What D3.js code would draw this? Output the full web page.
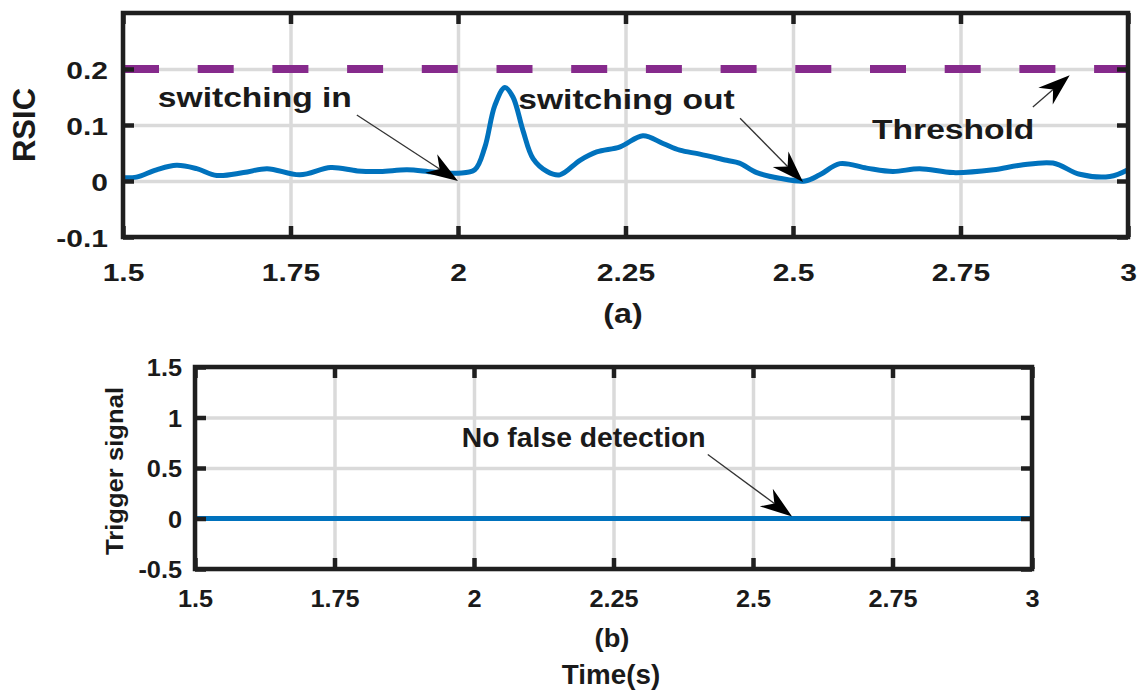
<!DOCTYPE html>
<html>
<head>
<meta charset="utf-8">
<script src="https://cdn.jsdelivr.net/npm/d3@7/dist/d3.min.js"></script>
<style>
  body { margin: 0; background: #fff; }
  svg { display: block; font-family: "Liberation Sans", Arial, sans-serif; }
</style>
</head>
<body>
<script>
// RSIC (a) and trigger signal (b) versus time

var width = 1140,
    height = 691;

// data
var timeTicks = [1.5, 1.75, 2, 2.25, 2.5, 2.75, 3];
var rsicTicks = [-0.1, 0, 0.1, 0.2];
var trigTicks = [-0.5, 0, 0.5, 1, 1.5];

var rsicTime = [1.5, 1.52, 1.55, 1.58, 1.61, 1.64, 1.68, 1.715, 1.764, 1.81, 1.85, 1.884,
                1.924, 1.963, 2.0, 2.025, 2.04, 2.055, 2.07, 2.082, 2.097, 2.112, 2.133,
                2.152, 2.182, 2.207, 2.242, 2.276, 2.306, 2.331, 2.361, 2.401, 2.42, 2.446,
                2.48, 2.518, 2.54, 2.57, 2.61, 2.649, 2.689, 2.739, 2.799, 2.839, 2.888,
                2.928, 2.973, 3.0];
var rsicValue = [0.006, 0.007, 0.02, 0.028, 0.022, 0.01, 0.015, 0.022, 0.011, 0.024, 0.018, 0.017,
                 0.02, 0.016, 0.014, 0.02, 0.06, 0.135, 0.167, 0.15, 0.09, 0.04, 0.017,
                 0.011, 0.037, 0.052, 0.061, 0.081, 0.067, 0.055, 0.048, 0.037, 0.032, 0.015,
                 0.005, 0.0, 0.011, 0.031, 0.023, 0.017, 0.022, 0.015, 0.02, 0.028, 0.032,
                 0.012, 0.008, 0.02];

var threshold = 0.2;

var trigTime = [1.5, 3];
var trigValue = [0, 0];

// annotations: label position + arrow tail / tip, in data units
var topNotes = [
  { text: "switching in",  tx: 1.552, ty: 0.133, x1: 1.849, y1: 0.118, x2: 2.0,   y2: 0.0 },
  { text: "switching out", tx: 2.09,  ty: 0.128, x1: 2.421, y1: 0.112, x2: 2.515, y2: -0.002 },
  { text: "Threshold",     tx: 2.618, ty: 0.0745, x1: 2.858, y1: 0.132, x2: 2.913, y2: 0.189 }
];
var bottomNotes = [
  { text: "No false detection", tx: 1.978, ty: 0.703, x1: 2.419, y1: 0.634, x2: 2.57, y2: 0.02 }
];

var svg = d3.select("body")
            .append("svg")
            .attr("width", width)
            .attr("height", height);

svg.append("rect")
   .attr("width", width)
   .attr("height", height)
   .attr("fill", "white");

var gridColor = "#dadada",
    boxColor = "#1f1f1f",
    textColor = "#1a1a1a",
    blue = "#0072BD",
    purple = "#862a8c";

// arrow with a filled, notched head
function arrow(g, x1, y1, x2, y2) {
  var dx = x2 - x1, dy = y2 - y1, len = Math.sqrt(dx * dx + dy * dy);
  var ux = dx / len, uy = dy / len, nx = -uy, ny = ux;
  var L = 32, w = 11, notch = 10;
  g.append("line")
   .attr("x1", x1).attr("y1", y1)
   .attr("x2", x2 - ux * (L - notch)).attr("y2", y2 - uy * (L - notch))
   .attr("stroke", "#333").attr("stroke-width", 1.3);
  var pts = [
    [x2, y2],
    [x2 - ux * L + nx * w, y2 - uy * L + ny * w],
    [x2 - ux * (L - notch), y2 - uy * (L - notch)],
    [x2 - ux * L - nx * w, y2 - uy * L - ny * w]
  ];
  g.append("path")
   .attr("d", "M" + pts.join("L") + "Z")
   .attr("fill", "#000");
}

// one MATLAB style panel: grid, box, inward ticks on all sides
function panel(x, y, xt, yt, o) {
  var g = svg.append("g");
  var x0 = x.range()[0], x1 = x.range()[1],
      y0 = y.range()[0], y1 = y.range()[1];

  // grid
  g.append("g")
   .attr("transform", "translate(0," + y0 + ")")
   .call(d3.axisBottom(x).tickValues(xt).tickSize(-(y0 - y1)).tickFormat(""))
   .call(function(a) { a.select(".domain").remove(); })
   .selectAll("line").attr("stroke", gridColor).attr("stroke-width", 3.5);
  g.append("g")
   .attr("transform", "translate(" + x0 + ",0)")
   .call(d3.axisLeft(y).tickValues(yt).tickSize(-(x1 - x0)).tickFormat(""))
   .call(function(a) { a.select(".domain").remove(); })
   .selectAll("line").attr("stroke", gridColor).attr("stroke-width", 3.5);

  var plot = g.append("g");

  // inward ticks
  var tl = 11;
  var axes = [
    [d3.axisBottom(x).tickValues(xt), "translate(0," + y0 + ")"],
    [d3.axisTop(x).tickValues(xt), "translate(0," + y1 + ")"],
    [d3.axisLeft(y).tickValues(yt), "translate(" + x0 + ",0)"],
    [d3.axisRight(y).tickValues(yt), "translate(" + x1 + ",0)"]
  ];
  axes.forEach(function(a) {
    g.append("g")
     .attr("transform", a[1])
     .call(a[0].tickSize(-tl).tickFormat(""))
     .call(function(s) { s.select(".domain").remove(); })
     .selectAll("line").attr("stroke", boxColor).attr("stroke-width", 4.5);
  });

  g.append("rect")
   .attr("x", x0).attr("y", y1)
   .attr("width", x1 - x0).attr("height", y0 - y1)
   .attr("fill", "none")
   .attr("stroke", boxColor)
   .attr("stroke-width", 4.5);

  // tick labels
  var bx = g.append("g")
   .attr("transform", "translate(0," + y0 + ")")
   .call(d3.axisBottom(x).tickValues(xt).tickSize(0).tickPadding(o.xPad).tickFormat(String));
  bx.select(".domain").remove();
  bx.selectAll("text")
    .attr("font-size", o.tickFont).attr("font-weight", "bold")
    .attr("font-family", "Liberation Sans, Arial, sans-serif")
    .attr("fill", textColor)
    .attr("transform", "scale(" + o.sx + ",1)");

  var ly = g.append("g")
   .attr("transform", "translate(" + x0 + ",0)")
   .call(d3.axisLeft(y).tickValues(yt).tickSize(0).tickPadding(o.yPad).tickFormat(String));
  ly.select(".domain").remove();
  ly.selectAll("text")
    .attr("font-size", o.tickFont).attr("font-weight", "bold")
    .attr("font-family", "Liberation Sans, Arial, sans-serif")
    .attr("fill", textColor)
    .attr("x", -o.yPad / o.sx)
    .attr("dy", "0.38em")
    .attr("transform", "scale(" + o.sx + ",1)");

  return plot;
}

function label(g, txt, px, py, size, sx, anchor, rot) {
  var t = g.append("text")
   .attr("transform", "translate(" + px + "," + py + ")" + (rot ? " rotate(" + rot + ")" : "") + " scale(" + sx + ",1)")
   .attr("text-anchor", anchor || "start")
   .attr("font-size", size)
   .attr("font-weight", "bold")
   .attr("fill", textColor)
   .text(txt);
  return t;
}

// ---- panel (a)
var xa = d3.scaleLinear().domain([1.5, 3]).range([123, 1128]);
var ya = d3.scaleLinear().domain([-0.1, 0.3]).range([237, 13]);
var pa = panel(xa, ya, timeTicks, rsicTicks, { xPad: 27, yPad: 15, tickFont: 24, sx: 1.25 });

pa.append("line")
  .attr("x1", xa(1.5)).attr("x2", xa(3))
  .attr("y1", ya(threshold)).attr("y2", ya(threshold))
  .attr("stroke", purple)
  .attr("stroke-width", 8)
  .attr("stroke-dasharray", "36,38.7");

var lineA = d3.line()
  .x(function(d, i) { return xa(rsicTime[i]); })
  .y(function(d) { return ya(d); })
  .curve(d3.curveCatmullRom.alpha(0.5));

pa.append("path")
  .attr("d", lineA(rsicValue))
  .attr("fill", "none")
  .attr("stroke", blue)
  .attr("stroke-width", 5)
  .attr("stroke-linejoin", "round");

topNotes.forEach(function(n) {
  label(svg, n.text, xa(n.tx), ya(n.ty), 28, 1.2);
  arrow(svg, xa(n.x1), ya(n.y1), xa(n.x2), ya(n.y2));
});

label(svg, "RSIC", 35, 125, 31, 1, "middle", -90);
label(svg, "(a)", 623, 323, 28, 1.15, "middle");

// ---- panel (b)
var xb = d3.scaleLinear().domain([1.5, 3]).range([195, 1032]);
var yb = d3.scaleLinear().domain([-0.5, 1.5]).range([569, 367]);
var pb = panel(xb, yb, timeTicks, trigTicks, { xPad: 22, yPad: 13, tickFont: 23, sx: 1.1 });

var lineB = d3.line()
  .x(function(d, i) { return xb(trigTime[i]); })
  .y(function(d) { return yb(d); });

pb.append("path")
  .attr("d", lineB(trigValue))
  .attr("fill", "none")
  .attr("stroke", blue)
  .attr("stroke-width", 5);

bottomNotes.forEach(function(n) {
  label(svg, n.text, xb(n.tx), yb(n.ty), 27.5, 1.03);
  arrow(svg, xb(n.x1), yb(n.y1), xb(n.x2), yb(n.y2));
});

label(svg, "Trigger signal", 123, 471, 24, 1, "middle", -90)
  .attr("textLength", 168).attr("lengthAdjust", "spacingAndGlyphs");
label(svg, "(b)", 612, 647, 26, 1.05, "middle");
label(svg, "Time(s)", 611, 684, 27, 1.03, "middle");
</script>
</body>
</html>
